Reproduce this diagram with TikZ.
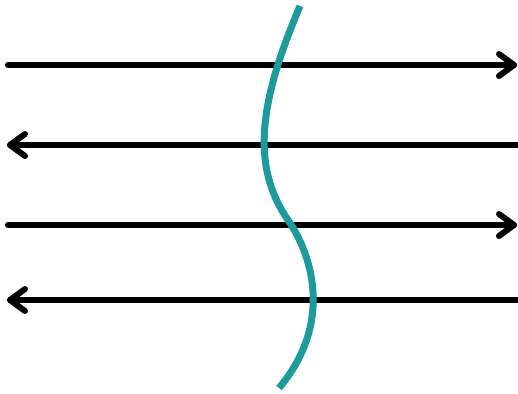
\documentclass[tikz,border=0pt]{standalone}
\definecolor{teal1}{RGB}{29,154,156}
\begin{document}
\begin{tikzpicture}[x=1pt,y=-1pt,
  shaft/.style={line width=6pt,line cap=round,line join=round,black},
  wave/.style={line width=7pt,teal1}]
\useasboundingbox (0,0) rectangle (518,393);
% arrows
\draw[shaft] (8,65) -- (514,65);
\draw[shaft] (499,54) -- (514,65) -- (499,76);
\draw[shaft] (10,145) -- (518,145);
\draw[shaft] (25,134) -- (10,145) -- (25,156);
\draw[shaft] (8,225) -- (514,225);
\draw[shaft] (499,214) -- (514,225) -- (499,236);
\draw[shaft] (10,300) -- (518,300);
\draw[shaft] (25,289) -- (10,300) -- (25,311);
% wave
\draw[wave] (300,6) .. controls (260,100) and (250,165) .. (288,220)
  .. controls (314,258) and (332,325) .. (279,388);
\end{tikzpicture}
\end{document}
